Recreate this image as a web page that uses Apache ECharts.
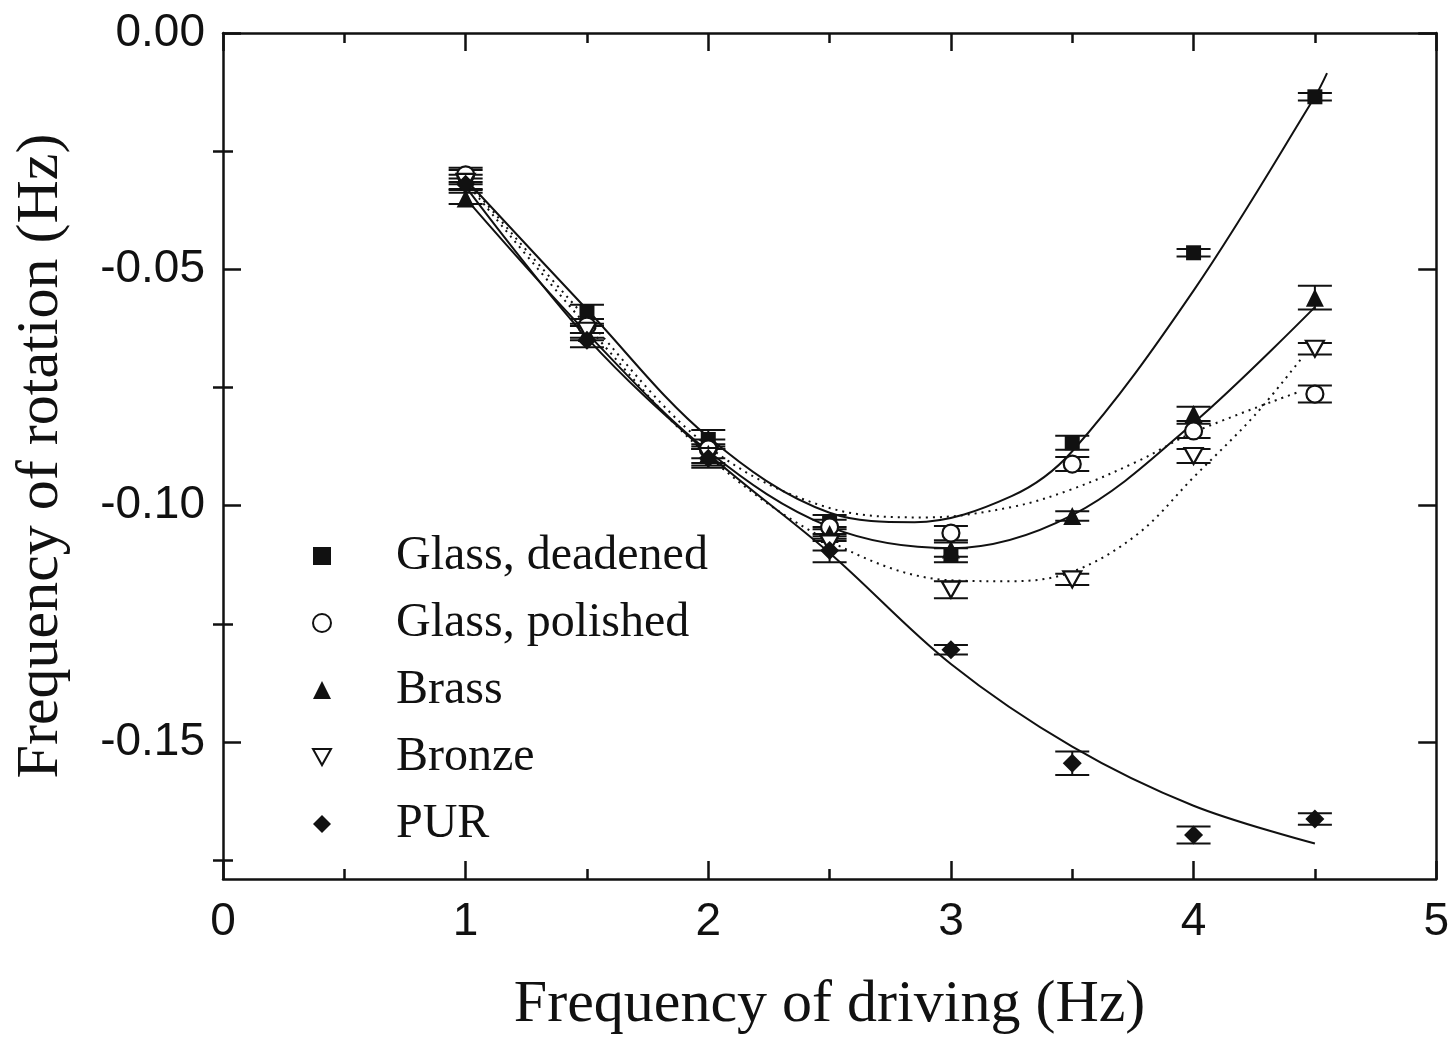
<!DOCTYPE html>
<html>
<head>
<meta charset="utf-8">
<title>Frequency of rotation vs. frequency of driving</title>
<script src="https://cdn.jsdelivr.net/npm/echarts@6/dist/echarts.min.js"></script>
<style>
  html, body { margin: 0; padding: 0; background: #fff; }
  #chart { width: 1452px; height: 1048px; }
</style>
</head>
<body>
<div id="chart"></div>
<script>
// Driving frequencies (Hz) at which each material was measured
const driveHz = [1, 1.5, 2, 2.5, 3, 3.5, 4, 4.5];

// Measured rotation frequencies (Hz)
const glassDeadened = [-0.0305, -0.0590, -0.0860, -0.1035, -0.1105, -0.0867, -0.0465, -0.0135];
const glassPolished = [-0.0300, -0.0620, -0.0880, -0.1045, -0.1058, -0.0912, -0.0842, -0.0764];
const brass         = [-0.0350, -0.0635, -0.0890, -0.1060, -0.1093, -0.1022, -0.0806, -0.0560];
const bronze        = [-0.0315, -0.0630, -0.0895, -0.1080, -0.1178, -0.1156, -0.0895, -0.0668];
const pur           = [-0.0320, -0.0650, -0.0900, -0.1095, -0.1305, -0.1545, -0.1697, -0.1663];

// Half-widths of the error bars (Hz)
const glassDeadenedErr = [0.0015, 0.0015, 0.0020, 0.0015, 0.0015, 0.0015, 0.0008, 0.0008];
const glassPolishedErr = [0.0015, 0.0015, 0.0020, 0.0015, 0.0015, 0.0015, 0.0015, 0.0018];
const brassErr         = [0.0012, 0.0015, 0.0020, 0.0015, 0.0015, 0.0010, 0.0015, 0.0025];
const bronzeErr        = [0.0015, 0.0015, 0.0020, 0.0015, 0.0018, 0.0012, 0.0015, 0.0012];
const purErr           = [0.0012, 0.0015, 0.0020, 0.0025, 0.0010, 0.0025, 0.0018, 0.0012];

// Fitted trend curves, sampled as [driving Hz, rotation Hz]
const glassDeadenedFit = [[1, -0.0310], [1.5, -0.0585], [2, -0.0855], [2.5, -0.1015], [2.85, -0.1035], [3.25, -0.0980], [3.5, -0.0885], [4, -0.0545], [4.5, -0.0135], [4.55, -0.0085]];
const glassPolishedFit = [[1, -0.0310], [1.5, -0.0605], [2, -0.0875], [2.5, -0.1005], [2.9, -0.1025], [3.25, -0.1003], [3.5, -0.0965], [3.77, -0.0906], [4, -0.0845], [4.43, -0.0760]];
const brassFit         = [[1, -0.0350], [1.5, -0.0635], [2, -0.0885], [2.5, -0.1045], [3, -0.1090], [3.5, -0.1020], [4, -0.0825], [4.5, -0.0580]];
const bronzeFit        = [[1, -0.0315], [1.5, -0.0620], [2, -0.0895], [2.5, -0.1075], [3, -0.1158], [3.25, -0.1160], [3.5, -0.1140], [3.77, -0.1060], [4, -0.0940], [4.25, -0.0810], [4.45, -0.0685]];
const purFit           = [[1, -0.0325], [1.5, -0.0645], [2, -0.0890], [2.5, -0.1100], [3, -0.1335], [3.5, -0.1510], [4, -0.1635], [4.5, -0.1715]];

// Axis ticks
const yMajorTicks = [0, -0.05, -0.10, -0.15];
const yMinorTicks = [-0.025, -0.075, -0.125, -0.175];

const INK = '#111';
const SERIF = 'Liberation Serif';
const SANS = 'Liberation Sans';
const DOWN_TRIANGLE = 'path://M0,0L20,0L10,18Z';

const materials = [
  { name: 'Glass, deadened', y: glassDeadened, err: glassDeadenedErr, fit: glassDeadenedFit, symbol: 'rect', size: 15, open: false, rotate: 0, dash: 'solid' },
  { name: 'Glass, polished', y: glassPolished, err: glassPolishedErr, fit: glassPolishedFit, symbol: 'circle', size: 17, open: true, rotate: 0, dash: 'dotted' },
  { name: 'Brass', y: brass, err: brassErr, fit: brassFit, symbol: 'triangle', size: 18, open: false, rotate: 0, dash: 'solid' },
  { name: 'Bronze', y: bronze, err: bronzeErr, fit: bronzeFit, symbol: DOWN_TRIANGLE, size: [18, 16], open: true, rotate: 0, dash: 'dotted' },
  { name: 'PUR', y: pur, err: purErr, fit: purFit, symbol: 'diamond', size: 19, open: false, rotate: 0, dash: 'solid' }
];

// Vertical error bar with horizontal caps
function renderErrorBar(params, api) {
  const x = api.value(0), y = api.value(1), e = api.value(2);
  const hi = api.coord([x, y + e]);
  const lo = api.coord([x, y - e]);
  const hw = 17;
  const style = { stroke: INK, lineWidth: 2 };
  return {
    type: 'group',
    children: [
      { type: 'line', shape: { x1: hi[0], y1: hi[1], x2: lo[0], y2: lo[1] }, style },
      { type: 'line', shape: { x1: hi[0] - hw, y1: hi[1], x2: hi[0] + hw, y2: hi[1] }, style },
      { type: 'line', shape: { x1: lo[0] - hw, y1: lo[1], x2: lo[0] + hw, y2: lo[1] }, style }
    ]
  };
}

const series = [];
materials.forEach(function (m) {
  series.push({
    type: 'line',
    name: m.name + ' fit',
    data: m.fit,
    smooth: 0.35,
    showSymbol: false,
    symbol: 'none',
    silent: true,
    z: 2,
    lineStyle: { color: INK, width: 2, type: m.dash === 'dotted' ? [2, 5] : 'solid' }
  });
  series.push({
    type: 'custom',
    name: m.name + ' error',
    renderItem: renderErrorBar,
    data: driveHz.map(function (x, i) { return [x, m.y[i], m.err[i]]; }),
    silent: true,
    z: 3
  });
  series.push({
    type: 'scatter',
    name: m.name,
    data: driveHz.map(function (x, i) { return [x, m.y[i]]; }),
    symbol: m.symbol,
    symbolSize: m.size,
    symbolRotate: m.rotate,
    z: 4,
    itemStyle: m.open
      ? { color: '#fff', borderColor: INK, borderWidth: 2.2, opacity: 1 }
      : { color: INK, borderColor: INK, borderWidth: 0, opacity: 1 }
  });
});

const yBase = { type: 'value', min: -0.179, max: 0, splitLine: { show: false } };
const tickLine = { color: INK, width: 2.5 };

const option = {
  backgroundColor: '#fff',
  animation: false,
  grid: { left: 223, right: 15, top: 33, bottom: 169, containLabel: false },
  legend: {
    orient: 'vertical',
    left: 307,
    top: 526,
    itemWidth: 18,
    itemHeight: 18,
    itemGap: 17,
    data: materials.map(function (m) {
      return m.name === 'Bronze' ? { name: m.name, icon: DOWN_TRIANGLE } : { name: m.name };
    }),
    textStyle: { fontFamily: SERIF, fontSize: 48, color: INK, lineHeight: 50, padding: [0, 0, 0, 60] },
    selectedMode: false
  },
  xAxis: [
    {
      type: 'value', position: 'bottom', min: 0, max: 5, interval: 1,
      name: 'Frequency of driving (Hz)', nameLocation: 'middle', nameGap: 96,
      nameTextStyle: { fontFamily: SERIF, fontSize: 60, color: INK },
      axisLine: { show: true, onZero: false, lineStyle: tickLine },
      axisTick: { show: true, inside: true, length: 18, lineStyle: tickLine },
      minorTick: { show: true, splitNumber: 2, length: 10, lineStyle: tickLine },
      axisLabel: { show: true, margin: 20, fontFamily: SANS, fontSize: 46, color: INK },
      splitLine: { show: false }, minorSplitLine: { show: false }
    },
    {
      type: 'value', position: 'top', min: 0, max: 5, interval: 1,
      axisLine: { show: true, onZero: false, lineStyle: tickLine },
      axisTick: { show: true, inside: true, length: 18, lineStyle: tickLine },
      minorTick: { show: true, splitNumber: 2, length: 10, lineStyle: tickLine },
      axisLabel: { show: false },
      splitLine: { show: false }, minorSplitLine: { show: false }
    }
  ],
  yAxis: [
    Object.assign({}, yBase, {
      position: 'left',
      name: 'Frequency of rotation (Hz)', nameLocation: 'middle', nameGap: 152, nameRotate: 90,
      nameTextStyle: { fontFamily: SERIF, fontSize: 60, color: INK },
      axisLine: { show: true, onZero: false, lineStyle: tickLine },
      axisTick: { show: true, inside: true, length: 18, customValues: yMajorTicks, lineStyle: tickLine },
      axisLabel: {
        show: true, margin: 18, customValues: yMajorTicks,
        fontFamily: SANS, fontSize: 46, color: INK,
        formatter: function (v) { return v.toFixed(2); }
      }
    }),
    Object.assign({}, yBase, {
      position: 'left',
      axisLine: { show: false },
      axisTick: { show: true, inside: true, length: 10, customValues: yMinorTicks, lineStyle: tickLine },
      axisLabel: { show: false }
    }),
    Object.assign({}, yBase, {
      position: 'right',
      axisLine: { show: true, onZero: false, lineStyle: tickLine },
      axisTick: { show: true, inside: true, length: 18, customValues: yMajorTicks, lineStyle: tickLine },
      axisLabel: { show: false }
    }),
    Object.assign({}, yBase, {
      position: 'right',
      axisLine: { show: false },
      axisTick: { show: true, inside: true, length: 10, customValues: yMinorTicks, lineStyle: tickLine },
      axisLabel: { show: false }
    })
  ],
  series: series
};

const chart = echarts.init(document.getElementById('chart'), null, { renderer: 'canvas' });
chart.setOption(option);
</script>
</body>
</html>
